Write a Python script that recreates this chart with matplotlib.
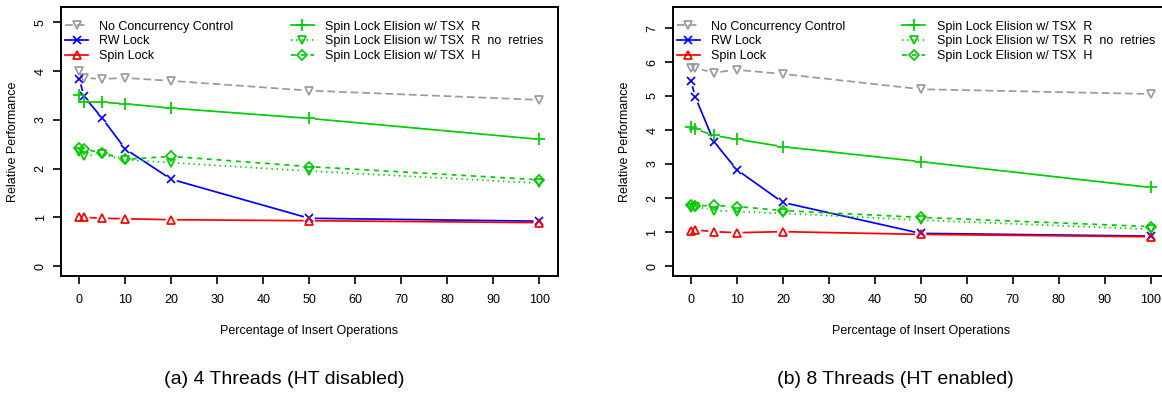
import numpy as np
import matplotlib
matplotlib.use("Agg")
import matplotlib.pyplot as plt
from matplotlib.lines import Line2D

plt.rcParams["font.family"] = ["Liberation Sans", "DejaVu Sans"]

# Percentage of insert operations
x = [0, 1, 5, 10, 20, 50, 100]

# (a) 4 threads, HT disabled
nocc_4 = [4.00, 3.86, 3.84, 3.86, 3.80, 3.60, 3.41]
rw_4 = [3.84, 3.48, 3.03, 2.40, 1.78, 0.98, 0.92]
spin_4 = [1.01, 1.00, 0.98, 0.97, 0.95, 0.93, 0.89]
tsxr_4 = [3.50, 3.36, 3.36, 3.33, 3.24, 3.03, 2.60]
tsxr_nr_4 = [2.35, 2.26, 2.29, 2.18, 2.12, 1.95, 1.70]
tsxh_4 = [2.43, 2.40, 2.32, 2.19, 2.25, 2.04, 1.77]

# (b) 8 threads, HT enabled
nocc_8 = [5.82, 5.82, 5.69, 5.77, 5.65, 5.20, 5.06]
rw_8 = [5.45, 4.96, 3.66, 2.83, 1.87, 0.96, 0.88]
spin_8 = [1.03, 1.06, 1.01, 0.98, 1.01, 0.93, 0.86]
tsxr_8 = [4.08, 4.03, 3.84, 3.73, 3.51, 3.07, 2.31]
tsxr_nr_8 = [1.70, 1.75, 1.63, 1.60, 1.55, 1.35, 1.08]
tsxh_8 = [1.80, 1.77, 1.78, 1.75, 1.63, 1.43, 1.16]

labels = [
    "No Concurrency Control",
    "RW Lock",
    "Spin Lock",
    "Spin Lock Elision w/ TSX  R",
    "Spin Lock Elision w/ TSX  R  no  retries",
    "Spin Lock Elision w/ TSX  H",
]

GRAY = "#9a9a9a"
BLUE = "#0000ff"
RED = "#ff0000"
GREEN = "#00cd00"

# color, linestyle, marker, markersize
styles = [
    (GRAY, (0, (4.5, 2.2)), "v", 6),
    (BLUE, "-", "x", 6),
    (RED, "-", "^", 6),
    (GREEN, "-", "+", 8),
    (GREEN, (0, (0.8, 2.2)), "v", 6),
    (GREEN, (0, (2.8, 2.8)), "D", 5),
]

LW = 1.25
MEW = 1.25

W, H = 1162, 394
fig = plt.figure(figsize=(W / 100, H / 100), dpi=100)

ax_w = 496.5 / W
ax_h = 268.7 / H
ax_b = (H - 276) / H
ax1 = fig.add_axes([61 / W, ax_b, ax_w, ax_h])
ax2 = fig.add_axes([672.5 / W, ax_b, ax_w, ax_h])


def draw_series(ax, xs, ys, color, ls, marker, ms, gap=6.5):
    # points plus separate segments with a gap around each point (R type="b")
    ax.plot(xs, ys, linestyle="none", marker=marker, color=color,
            mfc="none", ms=ms, mew=MEW)
    pts = ax.transData.transform(np.column_stack([xs, ys]))
    inv = ax.transData.inverted()
    for p0, p1 in zip(pts[:-1], pts[1:]):
        d = p1 - p0
        length = np.hypot(d[0], d[1])
        if length <= 2 * gap:
            continue
        u = d / length
        a = inv.transform(p0 + u * gap)
        b = inv.transform(p1 - u * gap)
        ax.plot([a[0], b[0]], [a[1], b[1]], color=color, linestyle=ls, lw=LW)


panels = [
    (ax1, [nocc_4, rw_4, spin_4, tsxr_4, tsxr_nr_4, tsxh_4], (-0.205, 5.31),
     range(0, 6), "(a) 4 Threads (HT disabled)"),
    (ax2, [nocc_8, rw_8, spin_8, tsxr_8, tsxr_nr_8, tsxh_8], (-0.294, 7.61),
     range(0, 8), "(b) 8 Threads (HT enabled)"),
]

handles = [
    Line2D([], [], color=c, linestyle=ls, marker=m, ms=ms, mfc="none",
           mew=MEW, lw=LW)
    for c, ls, m, ms in styles
]

for ax, series, ylim, yticks, caption in panels:
    ax.set_xlim(-4, 104)
    ax.set_ylim(*ylim)
    for ys, (c, ls, m, ms) in zip(series, styles):
        draw_series(ax, x, ys, c, ls, m, ms)

    ax.set_xticks(range(0, 101, 10))
    ax.set_yticks(list(yticks))
    ax.tick_params(axis="both", direction="out", length=5.8, width=1.2,
                   labelsize=9, colors="black")
    ax.tick_params(axis="x", pad=7.0)
    ax.tick_params(axis="y", pad=4.5, labelrotation=90)
    for t in ax.get_yticklabels():
        t.set_va("center")
    for s in ax.spines.values():
        s.set_linewidth(1.4)

    ax.set_xlabel("Percentage of Insert Operations", fontsize=9, va="center")
    ax.xaxis.set_label_coords(0.5, -54.7 / 268.7)
    ax.set_ylabel("Relative Performance", fontsize=9, va="center")
    ax.yaxis.set_label_coords(-47.7 / 496.5, 0.5)

    leg_kw = dict(loc="upper left", frameon=False, fontsize=9, borderpad=0,
                  borderaxespad=0, handlelength=1.85, handletextpad=0.9,
                  labelspacing=0.22)
    leg1 = ax.legend(handles[:3], labels[:3],
                     bbox_to_anchor=(4 / 496.5, 0.950), **leg_kw)
    ax.add_artist(leg1)
    ax.legend(handles[3:], labels[3:],
              bbox_to_anchor=(229.7 / 496.5, 0.950), **leg_kw)

    pos = ax.get_position()
    cx = (pos.x0 + pos.width / 2) - 25 / W
    fig.text(cx, (H - 379) / H, caption, ha="center", va="center", fontsize=14)

fig.savefig("out.png", dpi=100)
